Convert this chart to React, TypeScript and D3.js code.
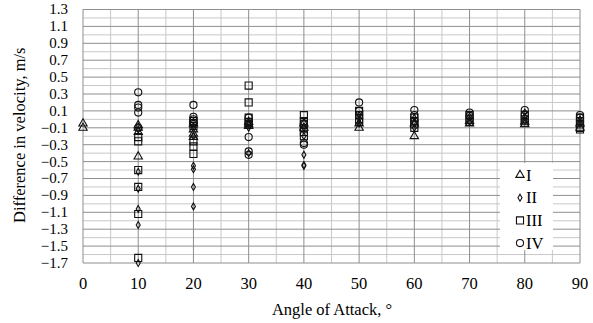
import React from "react";
import * as d3 from "d3";

// Velocity differences by angle of attack, one list of [angle, value] pairs per configuration
const seriesI: [number, number][] = [
  [0, -0.05], [0, -0.1],
  [10, -0.07], [10, -0.1], [10, -0.15], [10, -0.44],
  [20, -0.05], [20, -0.12], [20, -0.17], [20, -0.21],
  [30, -0.03], [30, -0.06], [30, -0.08],
  [40, -0.05], [40, -0.1],
  [50, -0.05], [50, -0.1],
  [60, -0.05], [60, -0.2],
  [70, -0.02], [70, -0.05],
  [80, -0.03], [80, -0.06],
  [90, -0.05], [90, -0.1],
];
const seriesII: [number, number][] = [
  [10, -0.12], [10, -0.62], [10, -0.82], [10, -1.06], [10, -1.25], [10, -1.7],
  [20, -0.08], [20, -0.2], [20, -0.55], [20, -0.59], [20, -0.8], [20, -1.03],
  [30, -0.05], [30, -0.1], [30, -0.4],
  [40, -0.1], [40, -0.2], [40, -0.42], [40, -0.54], [40, -0.55],
  [50, 0.05], [50, 0], [50, -0.05],
  [60, 0.02], [60, -0.05], [60, -0.1],
  [70, 0.03], [70, -0.03],
  [80, 0.08], [80, 0.03], [80, -0.02],
  [90, 0], [90, -0.05],
];
const seriesIII: [number, number][] = [
  [10, -0.21], [10, -0.26], [10, -0.6], [10, -0.8], [10, -1.12], [10, -1.64],
  [20, -0.02], [20, -0.05], [20, -0.08], [20, -0.26], [20, -0.32], [20, -0.41],
  [30, 0.4], [30, 0.2], [30, 0.02], [30, -0.03], [30, -0.06],
  [40, 0.05], [40, -0.02], [40, -0.06], [40, -0.1], [40, -0.15], [40, -0.2],
  [50, 0.1], [50, 0.05], [50, 0], [50, -0.03],
  [60, 0.02], [60, -0.02], [60, -0.06], [60, -0.1],
  [70, 0.05], [70, 0.01], [70, -0.03],
  [80, 0.05], [80, 0], [80, -0.04],
  [90, 0.02], [90, -0.02], [90, -0.06], [90, -0.1], [90, -0.12],
];
const seriesIV: [number, number][] = [
  [10, 0.32], [10, 0.17], [10, 0.14], [10, 0.08], [10, -0.1],
  [20, 0.17], [20, 0.03], [20, 0], [20, -0.04],
  [30, 0.02], [30, -0.05], [30, -0.21], [30, -0.38], [30, -0.42],
  [40, -0.05], [40, -0.28], [40, -0.3],
  [50, 0.2], [50, 0.1], [50, 0.05],
  [60, 0.11], [60, 0.05], [60, -0.02],
  [70, 0.08], [70, 0.04],
  [80, 0.11], [80, 0.06],
  [90, 0.05], [90, 0.02],
];

const seriesNames = ["I", "II", "III", "IV"];
const xTicks = [0, 10, 20, 30, 40, 50, 60, 70, 80, 90];
const yTicks = [1.3, 1.1, 0.9, 0.7, 0.5, 0.3, 0.1, -0.1, -0.3, -0.5, -0.7, -0.9, -1.1, -1.3, -1.5, -1.7];

const W = 593;
const H = 323;
const plot = { left: 83, right: 580, top: 9.5, bottom: 263 };
const FONT = "'Liberation Serif', 'Times New Roman', serif";
const FS = 16.5;
const FS_Y = 15;
const INK = "#111";

const x = d3.scaleLinear().domain([0, 90]).range([plot.left, plot.right]);
const y = d3.scaleLinear().domain([-1.7, 1.3]).range([plot.bottom, plot.top]);

const symbolTypes = [d3.symbolTriangle, d3.symbolDiamond, d3.symbolSquare, d3.symbolCircle];
const symbolSizes = [30, 14, 50, 40];

function markerPath(i: number) {
  return d3.symbol().type(symbolTypes[i]).size(symbolSizes[i])() as string;
}

export default function App() {
  const series = [seriesI, seriesII, seriesIII, seriesIV];
  const minorX = d3.range(5, 90, 10);
  const minorY = d3.range(-16, 13, 2).map((k) => k / 10);

  return (
    <svg width={W} height={H} style={{ position: "absolute", left: 0, top: 0, background: "#fff" }}>
      <rect x={0} y={0} width={W} height={H} fill="#fff" />
      {/* minor grid */}
      <g stroke="#c8c8c8" strokeWidth={1}>
        {minorX.map((v) => (
          <line key={"mx" + v} x1={x(v)} x2={x(v)} y1={plot.top} y2={plot.bottom} />
        ))}
        {minorY.map((v) => (
          <line key={"my" + v} x1={plot.left} x2={plot.right} y1={y(v)} y2={y(v)} />
        ))}
      </g>
      {/* major grid */}
      <g stroke="#8e8e8e" strokeWidth={1}>
        {xTicks.map((v) => (
          <line key={"Mx" + v} x1={x(v)} x2={x(v)} y1={plot.top} y2={plot.bottom} />
        ))}
        {yTicks.map((v) => (
          <line key={"My" + v} x1={plot.left} x2={plot.right} y1={y(v)} y2={y(v)} />
        ))}
      </g>
      {/* y tick labels */}
      <g fontFamily={FONT} fontSize={FS_Y} fill="#000" textAnchor="end">
        {yTicks.map((v) => (
          <text key={"yt" + v} x={68} y={y(v)} dy="0.33em">
            {d3.format(".1f")(v)}
          </text>
        ))}
      </g>
      {/* x tick labels */}
      <g fontFamily={FONT} fontSize={FS} fill="#000" textAnchor="middle">
        {xTicks.map((v) => (
          <text key={"xt" + v} x={x(v)} y={289}>
            {v}
          </text>
        ))}
      </g>
      {/* axis titles */}
      <text x={332} y={315} fontFamily={FONT} fontSize={FS} textAnchor="middle" fill="#000">
        Angle of Attack, °
      </text>
      <text
        transform={`translate(25, ${(plot.top + plot.bottom) / 2 - 1}) rotate(-90)`}
        fontFamily={FONT}
        fontSize={FS}
        textAnchor="middle"
        fill="#000"
      >
        Difference in velocity, m/s
      </text>
      {/* markers */}
      {series.map((pts, i) => (
        <g key={"s" + i} fill="none" stroke={INK} strokeWidth={1.1}>
          {pts.map(([a, v], j) => (
            <path key={j} d={markerPath(i)} transform={`translate(${x(a)}, ${y(v)})`} />
          ))}
        </g>
      ))}
      {/* legend */}
      <g>
        <rect x={500} y={163} width={53} height={87} fill="#fff" />
        {seriesNames.map((name, i) => {
          const cy = 175 + i * 22.7;
          return (
            <g key={name}>
              <path d={markerPath(i)} transform={`translate(520, ${cy})`} fill="none" stroke={INK} strokeWidth={1.1} />
              <text x={526} y={cy} dy="0.35em" fontFamily={FONT} fontSize={FS} fill="#000">
                {name}
              </text>
            </g>
          );
        })}
      </g>
    </svg>
  );
}
